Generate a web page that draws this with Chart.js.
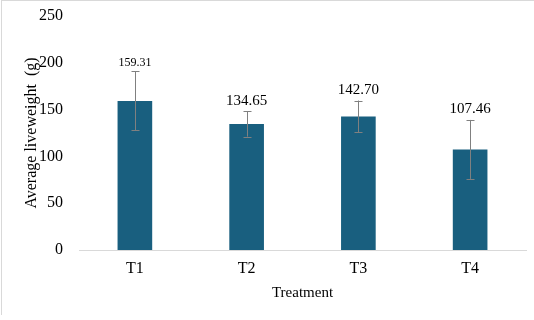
<!DOCTYPE html>
<html>
<head>
<meta charset="utf-8">
<script src="https://cdn.jsdelivr.net/npm/chart.js@4"></script>
<style>
  body { margin: 0; background: #fff; }
  #wrap { position: relative; width: 534px; height: 320px; }
  #frame { position: absolute; left: 1px; top: 0px; width: 533px; height: 315px;
           border-left: 1px solid #d9d9d9; border-top: 1px solid #d9d9d9; box-sizing: border-box; }
  canvas { position: absolute; left: 0; top: 0; }
</style>
</head>
<body>
<div id="wrap">
  <div id="frame"></div>
  <canvas id="myChart" width="534" height="320"></canvas>
</div>
<script>
const treatments = ["T1", "T2", "T3", "T4"];
const liveweight = [159.31, 134.65, 142.70, 107.46];
const errors = [31.5, 13.5, 17, 31.5];
const valueLabels = ["159.31", "134.65", "142.70", "107.46"];
const labelSizes = [12, 15, 15, 15];

const serif = "'Liberation Serif', 'Times New Roman', serif";

const errorBars = {
  id: "errorBars",
  afterDatasetsDraw(chart) {
    const ctx = chart.ctx;
    const y = chart.scales.y;
    const meta = chart.getDatasetMeta(0);
    ctx.save();
    meta.data.forEach((bar, i) => {
      const x = Math.round(bar.x) + 0.5;
      const top = y.getPixelForValue(liveweight[i] + errors[i]);
      const bottom = y.getPixelForValue(liveweight[i] - errors[i]);
      ctx.strokeStyle = "#808080";
      ctx.lineWidth = 1;
      ctx.beginPath();
      ctx.moveTo(x, top);
      ctx.lineTo(x, bottom);
      ctx.moveTo(x - 4, Math.round(top) + 0.5);
      ctx.lineTo(x + 4, Math.round(top) + 0.5);
      ctx.moveTo(x - 4, Math.round(bottom) + 0.5);
      ctx.lineTo(x + 4, Math.round(bottom) + 0.5);
      ctx.stroke();

      ctx.fillStyle = "#000";
      ctx.font = labelSizes[i] + "px " + serif;
      ctx.textAlign = "center";
      ctx.textBaseline = "bottom";
      ctx.fillText(valueLabels[i], bar.x, top - 3);
    });
    ctx.restore();
  }
};

const data = {
  labels: treatments,
  datasets: [
    {
      data: liveweight,
      backgroundColor: "#195f7f",
      borderWidth: 0,
      barPercentage: 0.31,
      categoryPercentage: 1.0
    }
  ]
};

const config = {
  type: "bar",
  data: data,
  options: {
    responsive: false,
    animation: false,
    layout: { padding: { left: 0, right: 8, top: 16, bottom: 14 } },
    plugins: { legend: { display: false }, tooltip: { enabled: false } },
    scales: {
      x: {
        grid: { display: false, drawTicks: false },
        border: { display: true, color: "#d9d9d9" },
        ticks: { color: "#000", font: { family: serif, size: 16 }, padding: 9 },
        title: { display: true, text: "Treatment", color: "#000", font: { family: serif, size: 15 }, padding: { top: 3 } },
        afterFit(scale) { scale.height = 56; }
      },
      y: {
        min: 0,
        max: 250,
        grid: { display: false, drawTicks: false },
        border: { display: false },
        ticks: { stepSize: 50, color: "#000", font: { family: serif, size: 16 }, padding: 16 },
        title: { display: true, text: "Average liveweight  (g)", color: "#000", font: { family: serif, size: 16 }, padding: { top: 22, bottom: 4 } },
        afterFit(scale) { scale.width = 79; scale.paddingTop = 0; }
      }
    }
  },
  plugins: [errorBars]
};

const myChart = new Chart(document.getElementById("myChart"), config);
</script>
</body>
</html>
